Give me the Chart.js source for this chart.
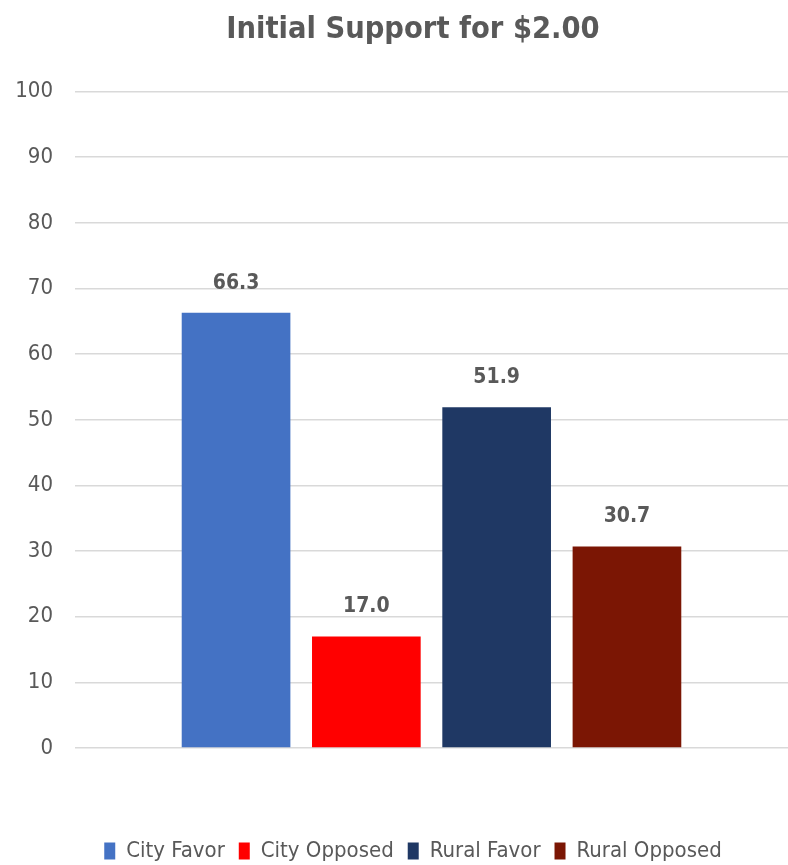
<!DOCTYPE html>
<html>
<head>
<meta charset="utf-8">
<script src="https://cdn.jsdelivr.net/npm/chart.js@4/dist/chart.umd.min.js"></script>
<style>
  html, body { margin: 0; padding: 0; background: #fff; }
  #wrap { width: 788px; height: 865px; }
</style>
</head>
<body>
<div id="wrap"><canvas id="supportChart" width="788" height="865"></canvas></div>
<script>
const groups = ["City Favor", "City Opposed", "Rural Favor", "Rural Opposed"];
const values = [66.3, 17.0, 51.9, 30.7];
const colors = ["#4472C4", "#FF0000", "#1F3864", "#7B1604"];
const yTicks = [0, 10, 20, 30, 40, 50, 60, 70, 80, 90, 100];

const FONT = "'Liberation Sans Narrow', 'DejaVu Sans Condensed', 'Liberation Sans', sans-serif";
const GREY = "#595959";

// value text over each bar
const barValues = {
  id: "barValues",
  afterDatasetsDraw(chart) {
    const ctx = chart.ctx;
    ctx.save();
    ctx.font = "bold 21px " + FONT;
    ctx.fillStyle = GREY;
    ctx.textAlign = "center";
    ctx.textBaseline = "bottom";
    chart.data.datasets.forEach((ds, i) => {
      chart.getDatasetMeta(i).data.forEach((bar, j) => {
        ctx.fillText(ds.data[j].toFixed(1), bar.x, bar.y - 19);
      });
    });
    ctx.restore();
  }
};

// title and legend are centred a little right of the canvas middle
const shiftBlocks = {
  id: "shiftBlocks",
  afterLayout(chart) {
    if (chart.titleBlock) chart.titleBlock.left += 38;
    if (chart.legend) chart.legend.left += 38;
  }
};

new Chart(document.getElementById("supportChart"), {
  type: "bar",
  data: {
    labels: [""],
    datasets: groups.map((g, i) => ({
      label: g,
      data: [values[i]],
      backgroundColor: colors[i],
      borderWidth: 0,
      categoryPercentage: 0.731,
      barPercentage: 0.834
    }))
  },
  plugins: [barValues, shiftBlocks],
  options: {
    responsive: false,
    animation: false,
    layout: { padding: { left: 0, right: 0, top: 0, bottom: -7 } },
    plugins: {
      title: {
        display: true,
        text: "Initial Support for $2.00",
        color: GREY,
        font: { family: FONT, size: 30.5, weight: "bold" },
        padding: { top: 12, bottom: 43 }
      },
      legend: {
        position: "bottom",
        labels: {
          color: GREY,
          font: { family: FONT, size: 22 },
          boxWidth: 11,
          boxHeight: 17,
          padding: 14
        }
      },
      tooltip: { enabled: false }
    },
    scales: {
      x: {
        grid: { display: false },
        border: { display: false },
        ticks: { display: false },
        afterFit: (axis) => { axis.height = 78; }
      },
      y: {
        min: 0,
        max: 100,
        afterBuildTicks: (axis) => { axis.ticks = yTicks.map(v => ({ value: v })); },
        afterFit: (axis) => { axis.width = 75; },
        grid: { color: "#D9D9D9", lineWidth: 1.5, drawTicks: false },
        border: { display: false },
        ticks: {
          color: GREY,
          padding: 22,
          font: { family: FONT, size: 22 }
        }
      }
    }
  }
});
</script>
</body>
</html>
